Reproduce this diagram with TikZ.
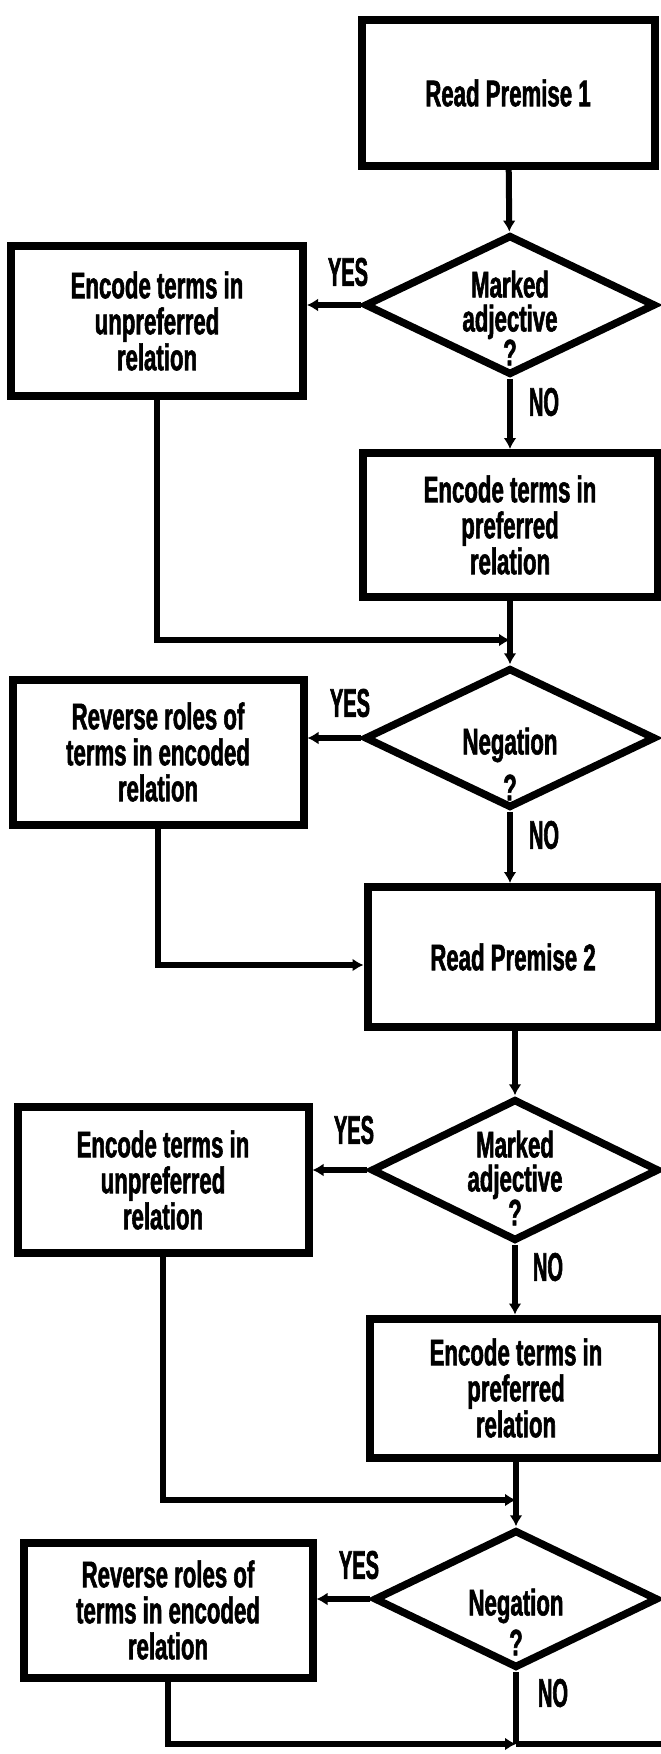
\documentclass[tikz,border=0pt]{standalone}
\usepackage{fontspec}
\newfontfamily\flowfont[FakeStretch=0.6,FakeBold=1.5]{Liberation Sans}
\newfontfamily\labfont[FakeStretch=0.5,FakeBold=1.5]{Liberation Sans}
\usetikzlibrary{shapes.geometric,arrows.meta}
\begin{document}
\begin{tikzpicture}[x=1pt,y=-1pt,
  box/.style={draw,line width=8pt,inner sep=0pt,align=center,
    font=\flowfont\bfseries\fontsize{37}{36}\selectfont},
  dia/.style={draw,diamond,line width=7.5pt,inner sep=0pt},
  dtext/.style={align=center,inner sep=0pt,
    font=\flowfont\bfseries\fontsize{37}{34}\selectfont},
  lab/.style={inner sep=0pt,font=\labfont\bfseries\fontsize{40}{40}\selectfont},
  conn/.style={line width=6pt},
  arr/.style={conn,-{Latex[length=11pt,width=13pt]}}]
\fill[white] (0,0) rectangle (661,1754);
\path[use as bounding box] (0,0) rectangle (661,1754);

% first premise
\node[box,minimum width=293pt,minimum height=146pt] (b1) at (508,93) {Read Premise 1};
\node[dia,minimum width=291pt,minimum height=140pt] (d1) at (510,305) {};
\node[dtext] at (510,318) {Marked\\adjective\\?};
\node[box,minimum width=292pt,minimum height=150pt] (b2) at (157,321)
  {Encode terms in\\unpreferred\\relation};
\node[box,minimum width=295pt,minimum height=144pt] (b3) at (510,525)
  {Encode terms in\\preferred\\relation};
\coordinate (j1) at (510,640);
\node[dia,minimum width=291pt,minimum height=140pt] (d2) at (510,738) {};
\node[dtext] at (510,764) {Negation\\[12pt]?};
\node[box,minimum width=291pt,minimum height=145pt] (b4) at (158,752)
  {Reverse roles of\\terms in encoded\\relation};

% second premise
\node[box,minimum width=291pt,minimum height=140pt] (b5) at (513,957) {Read Premise 2};
\node[dia,minimum width=288pt,minimum height=142pt] (d3) at (515,1170) {};
\node[dtext] at (515,1178) {Marked\\adjective\\?};
\node[box,minimum width=291pt,minimum height=146pt] (b6) at (163,1180)
  {Encode terms in\\unpreferred\\relation};
\node[box,minimum width=292pt,minimum height=139pt] (b7) at (516,1388)
  {Encode terms in\\preferred\\relation};
\coordinate (j3) at (516,1500);
\node[dia,minimum width=284pt,minimum height=138pt] (d4) at (516,1599) {};
\node[dtext] at (516,1622) {Negation\\[6pt]?};
\node[box,minimum width=289pt,minimum height=135pt] (b8) at (168,1610)
  {Reverse roles of\\terms in encoded\\relation};
\coordinate (j4) at (516,1744);
\coordinate (out) at (661,1744);

% branch labels
\node[lab] at (348,272) {YES};
\node[lab] at (544,402) {NO};
\node[lab] at (350,703) {YES};
\node[lab] at (544,835) {NO};
\node[lab] at (354,1130) {YES};
\node[lab] at (548,1267) {NO};
\node[lab] at (359,1565) {YES};
\node[lab] at (553,1693) {NO};

% connectors
\draw[arr] (b1) -- (d1);
\draw[arr] (d1.west) -- (d1.west -| b2.east);
\draw[arr] (d1) -- (b3);
\draw[arr] (b2.south) |- (j1);
\draw[arr] (b3) -- (d2);
\draw[arr] (d2.west) -- (d2.west -| b4.east);
\draw[arr] (d2.south) -- (d2.south |- b5.north);
\draw[arr] (b4.south) |- ([yshift=-8pt]b5.west);
\draw[arr] (b5.south -| d3.north) -- (d3.north);
\draw[arr] (d3.west) -- (d3.west -| b6.east);
\draw[arr] (d3.south) -- (d3.south |- b7.north);
\draw[arr] (b6.south) |- (j3);
\draw[arr] (b7) -- (d4);
\draw[arr] (d4.west) -- (d4.west -| b8.east);
\draw[conn] (d4.south) -- (j4);
\draw[arr] (b8.south) |- (j4);
\draw[conn] (j4) -- (out);
\end{tikzpicture}
\end{document}
